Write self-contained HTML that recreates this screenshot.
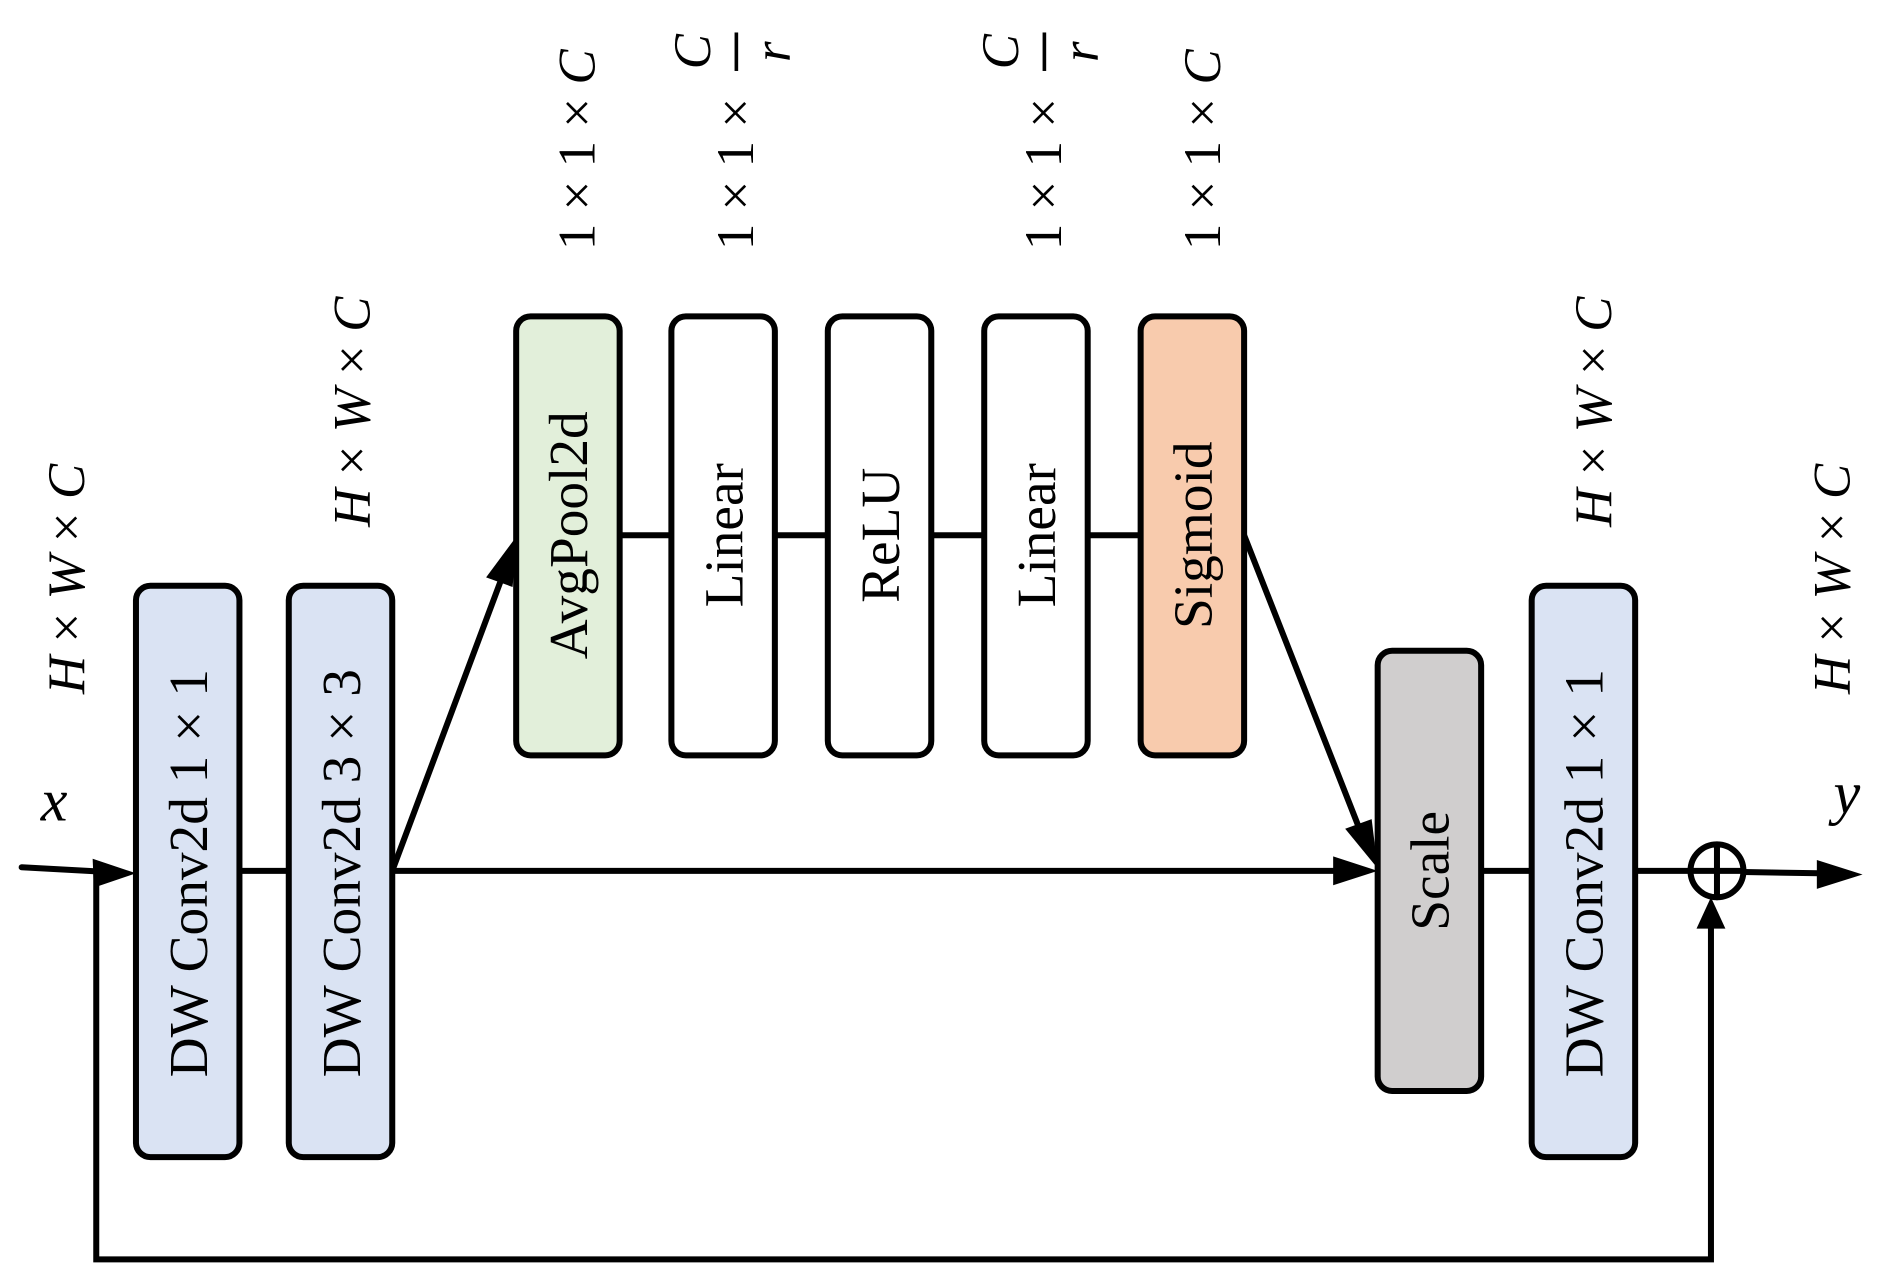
<!DOCTYPE html>
<html><head><meta charset="utf-8"><style>
html,body{margin:0;padding:0;background:#fff;}
svg{display:block;}
text{font-family:"Liberation Serif",serif;fill:#000;}
.it{font-style:italic;}
</style></head><body>
<svg width="1877" height="1281" viewBox="0 0 1560 1065" preserveAspectRatio="none" xmlns="http://www.w3.org/2000/svg">
<g stroke="#000" stroke-width="5" fill="none" stroke-linecap="round">
<line x1="18" y1="721" x2="90" y2="725"/>
<line x1="199" y1="724" x2="240" y2="724"/>
<line x1="326" y1="724" x2="1112" y2="724"/>
<line x1="1231" y1="724" x2="1273" y2="724"/>
<line x1="1359" y1="724" x2="1405" y2="724"/>
<line x1="1449" y1="725" x2="1512" y2="726"/>
<line x1="326" y1="724" x2="418" y2="478"/>
<line x1="515" y1="445" x2="948" y2="445"/>
<line x1="1034" y1="445" x2="1131" y2="692"/>
<polyline points="80,724 80,1047 1422,1047 1422,768"/>
<circle cx="1427" cy="724" r="22"/>
<line x1="1405" y1="724" x2="1449" y2="724"/>
<line x1="1427" y1="702" x2="1427" y2="746"/>
</g>
<g fill="#000">
<polygon points="113,726 77,714 78,738"/>
<polygon points="1145,724 1108,712 1108,736"/>
<polygon points="1548,727 1510,715 1510,739"/>
<polygon points="1422,746 1410,772 1434,772"/>
<polygon points="430,445 404,480 426,488"/>
<polygon points="1145,722 1118,689 1140,681"/>
</g>
<g stroke="#000" stroke-width="5">
<rect x="113" y="487" width="86" height="475" rx="12" fill="#dae3f3"/>
<rect x="240" y="487" width="86" height="475" rx="12" fill="#dae3f3"/>
<rect x="429" y="263" width="86" height="365" rx="12" fill="#e2efda"/>
<rect x="558" y="263" width="86" height="365" rx="12" fill="#ffffff"/>
<rect x="688" y="263" width="86" height="365" rx="12" fill="#ffffff"/>
<rect x="818" y="263" width="86" height="365" rx="12" fill="#ffffff"/>
<rect x="948" y="263" width="86" height="365" rx="12" fill="#f8cbad"/>
<rect x="1145" y="541" width="86" height="366" rx="12" fill="#d0cece"/>
<rect x="1273" y="487" width="86" height="475" rx="12" fill="#dae3f3"/>
</g>
<g font-size="46" text-anchor="middle">
<text transform="translate(172,726) rotate(-90)">DW Conv2d 1 × 1</text>
<text transform="translate(299,726) rotate(-90)">DW Conv2d  3 × 3</text>
<text transform="translate(488,445) rotate(-90)">AvgPool2d</text>
<text transform="translate(617,445) rotate(-90)">Linear</text>
<text transform="translate(747,445) rotate(-90)">ReLU</text>
<text transform="translate(877,445) rotate(-90)">Linear</text>
<text transform="translate(1007,445) rotate(-90)">Sigmoid</text>
<text transform="translate(1204,724) rotate(-90)">Scale</text>
<text transform="translate(1332,726) rotate(-90)">DW Conv2d 1 × 1</text>
</g>
<g font-size="44">
<text transform="translate(70,577) rotate(-90)"><tspan class="it">H</tspan> × <tspan class="it">W</tspan> × <tspan class="it">C</tspan></text>
<text transform="translate(307,438) rotate(-90)"><tspan class="it">H</tspan> × <tspan class="it">W</tspan> × <tspan class="it">C</tspan></text>
<text transform="translate(1339,438) rotate(-90)"><tspan class="it">H</tspan> × <tspan class="it">W</tspan> × <tspan class="it">C</tspan></text>
<text transform="translate(1537,577) rotate(-90)"><tspan class="it">H</tspan> × <tspan class="it">W</tspan> × <tspan class="it">C</tspan></text>
<text transform="translate(494,208) rotate(-90)">1 × 1 × <tspan class="it">C</tspan></text>
<text transform="translate(1014,208) rotate(-90)">1 × 1 × <tspan class="it">C</tspan></text>
<g transform="translate(626,208) rotate(-90)">
<text x="0" y="0">1 × 1 ×</text>
<text x="165" y="-36" text-anchor="middle" class="it">C</text>
<text x="165" y="30" text-anchor="middle" class="it">r</text>
<line x1="149" y1="-14" x2="181" y2="-14" stroke="#000" stroke-width="3"/>
</g>
<g transform="translate(882,208) rotate(-90)">
<text x="0" y="0">1 × 1 ×</text>
<text x="165" y="-36" text-anchor="middle" class="it">C</text>
<text x="165" y="30" text-anchor="middle" class="it">r</text>
<line x1="149" y1="-14" x2="181" y2="-14" stroke="#000" stroke-width="3"/>
</g>
</g>
<text x="45" y="682" font-size="50" class="it" text-anchor="middle">x</text>
<text x="1535" y="676" font-size="50" class="it" text-anchor="middle">y</text>
</svg>
</body></html>
